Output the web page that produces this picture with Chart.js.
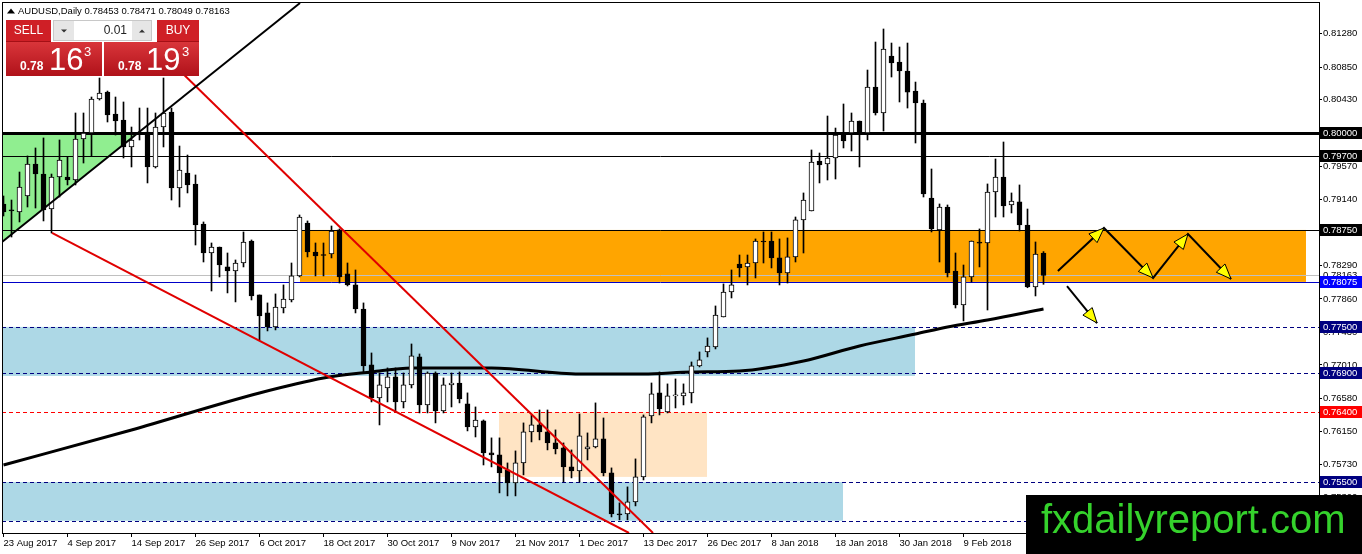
<!DOCTYPE html>
<html><head><meta charset="utf-8">
<script src="https://cdn.jsdelivr.net/npm/chart.js@4.4.1/dist/chart.umd.min.js"></script>
<style>html,body{margin:0;padding:0;background:#fff;overflow:hidden}#wrap{width:1362px;height:554px;position:relative}</style>
</head><body><div id="wrap"><canvas id="c"></canvas></div>
<script>
// ---------- DATA ----------
const symbolTitle = 'AUDUSD,Daily 0.78453 0.78471 0.78049 0.78163';
const dateLabels = ['23 Aug 2017','4 Sep 2017','14 Sep 2017','26 Sep 2017','6 Oct 2017','18 Oct 2017','30 Oct 2017','9 Nov 2017','21 Nov 2017','1 Dec 2017','13 Dec 2017','26 Dec 2017','8 Jan 2018','18 Jan 2018','30 Jan 2018','9 Feb 2018'];
const dateBars = [0,8,16,24,32,40,48,56,64,72,80,88,96,104,112,120];
const priceTicks = [0.8128,0.8085,0.8043,0.8000,0.7957,0.7914,0.7871,0.7829,0.7786,0.7743,0.7701,0.7658,0.7615,0.7573,0.7530];

const openP = [0.79085,0.79007,0.78982,0.79188,0.79600,0.79471,0.79020,0.79433,0.79433,0.79394,
0.79923,0.80000,0.80438,0.80528,0.80245,0.80168,0.79820,0.80000,0.80013,0.79562,
0.80077,0.80271,0.79291,0.79484,0.79343,0.78827,0.78453,0.78530,0.78273,0.78221,
0.78324,0.78608,0.77912,0.77680,0.77499,0.77744,0.77847,0.78157,0.78840,0.78466,
0.78427,0.78440,0.78750,0.78183,0.78041,0.77731,0.77010,0.76584,0.76713,0.76855,
0.76533,0.76752,0.77113,0.76494,0.76906,0.76417,0.76752,0.76777,0.76507,0.76210,
0.76288,0.75875,0.75849,0.75656,0.75488,0.75746,0.76146,0.76236,0.76146,0.76004,
0.75940,0.75695,0.75643,0.75927,0.75953,0.76056,0.75617,0.75089,0.75089,0.75244,
0.75566,0.76352,0.76649,0.76404,0.76610,0.76610,0.76649,0.76997,0.77177,0.77242,
0.77628,0.77950,0.78311,0.78273,0.78324,0.78608,0.78608,0.78389,0.78195,0.78402,
0.78879,0.78995,0.79639,0.79600,0.79678,0.79987,0.80000,0.80155,0.80000,0.80593,
0.80258,0.80993,0.80915,0.80799,0.80541,0.80387,0.79162,0.78750,0.79046,0.78221,
0.77783,0.78144,0.78582,0.78582,0.79239,0.79433,0.79072,0.79111,0.78814,0.78015,
0.78453];
const highP = [0.79188,0.79136,0.79497,0.79704,0.79807,0.79936,0.79471,0.79910,0.79691,0.80258,
0.80258,0.80464,0.80709,0.80541,0.80464,0.80400,0.80077,0.80322,0.80322,0.80258,
0.80709,0.80322,0.79832,0.79716,0.79459,0.78853,0.78582,0.78530,0.78453,0.78363,
0.78724,0.78621,0.77912,0.77809,0.77925,0.78041,0.78324,0.78943,0.78866,0.78582,
0.78582,0.78801,0.78763,0.78324,0.78234,0.77809,0.77164,0.76906,0.76971,0.76971,
0.76906,0.77280,0.77151,0.76920,0.76920,0.76842,0.76906,0.76919,0.76649,0.76468,
0.76300,0.76069,0.76069,0.75746,0.75901,0.76262,0.76365,0.76429,0.76429,0.76172,
0.76004,0.75914,0.76378,0.76133,0.76520,0.76326,0.75682,0.75231,0.75437,0.75798,
0.76365,0.76777,0.76919,0.76765,0.76829,0.76765,0.77048,0.77177,0.77358,0.77770,
0.78054,0.78234,0.78427,0.78427,0.78634,0.78724,0.78724,0.78634,0.78647,0.78917,
0.79227,0.79781,0.79742,0.80219,0.80064,0.80374,0.80258,0.80155,0.80812,0.81173,
0.81341,0.81160,0.81109,0.81160,0.80657,0.80425,0.79536,0.79085,0.79072,0.78453,
0.78298,0.78608,0.78763,0.79343,0.79665,0.79884,0.79227,0.79330,0.79020,0.78595,
0.78471];
const lowP = [0.78930,0.78659,0.78853,0.79046,0.79033,0.78866,0.78711,0.79175,0.79330,0.79330,
0.79613,0.79704,0.80425,0.80142,0.79974,0.79678,0.79562,0.79910,0.79356,0.79549,
0.79820,0.79136,0.79046,0.79227,0.78556,0.78337,0.77963,0.78144,0.77938,0.77822,
0.78273,0.77847,0.77332,0.77448,0.77461,0.77680,0.77822,0.78144,0.78402,0.78157,
0.78157,0.78389,0.78066,0.78028,0.77680,0.76906,0.76533,0.76236,0.76533,0.76404,
0.76455,0.76713,0.76391,0.76391,0.76262,0.76391,0.76468,0.76520,0.76159,0.76081,
0.75720,0.75695,0.75360,0.75321,0.75321,0.75592,0.76017,0.76043,0.75914,0.75862,
0.75501,0.75553,0.75501,0.75785,0.75940,0.75579,0.75050,0.75012,0.75012,0.75192,
0.75527,0.76262,0.76365,0.76391,0.76455,0.76494,0.76520,0.76984,0.77113,0.77216,
0.77628,0.77873,0.78144,0.78041,0.78131,0.78324,0.78260,0.78041,0.78066,0.78337,
0.78453,0.78995,0.79356,0.79394,0.79407,0.79807,0.79768,0.79562,0.79910,0.80232,
0.80026,0.80722,0.80400,0.80322,0.79871,0.79175,0.78724,0.78337,0.78144,0.77744,
0.77577,0.78079,0.78273,0.77718,0.78917,0.78917,0.78969,0.78737,0.78005,0.77899,
0.78049];
const closeP = [0.78982,0.78995,0.79304,0.79600,0.79471,0.79007,0.79433,0.79652,0.79394,0.79923,
0.80000,0.80438,0.80516,0.80232,0.80155,0.79820,0.79910,0.79987,0.79562,0.80077,
0.80258,0.79291,0.79523,0.79330,0.78814,0.78453,0.78530,0.78299,0.78221,0.78324,
0.78595,0.77899,0.77641,0.77499,0.77757,0.77860,0.78157,0.78917,0.78466,0.78415,
0.78420,0.78737,0.78144,0.78041,0.77731,0.76997,0.76584,0.76752,0.76855,0.76533,
0.76752,0.77126,0.76494,0.76906,0.76417,0.76752,0.76777,0.76571,0.76210,0.76300,
0.75875,0.75849,0.75617,0.75488,0.75746,0.76146,0.76236,0.76146,0.76004,0.75927,
0.75695,0.75643,0.76094,0.75953,0.76056,0.75617,0.75089,0.75076,0.75244,0.75566,
0.76339,0.76636,0.76442,0.76610,0.76612,0.76649,0.76997,0.77074,0.77254,0.77654,
0.77950,0.78041,0.78260,0.78324,0.78608,0.78595,0.78389,0.78195,0.78402,0.78879,
0.79136,0.79626,0.79588,0.79678,0.79974,0.79897,0.80155,0.80013,0.80593,0.80258,
0.81083,0.80902,0.80799,0.80528,0.80387,0.79214,0.78763,0.79046,0.78195,0.77783,
0.78144,0.78608,0.78580,0.79239,0.79433,0.79059,0.79123,0.78814,0.78015,0.78440,
0.78163];

// moving average read at sample bars
const maBars = [0,16,32,40,46,51,61,72,80,86,92,100,107,114,118,123,130];
const maVals = [0.75719,0.76171,0.76648,0.76841,0.76919,0.76970,0.76970,0.76893,0.76893,0.76919,0.76931,0.77060,0.77254,0.77408,0.77499,0.77589,0.77731];

// horizontal levels
const levelVals = [0.80000,0.79700,0.78750,0.78163,0.78075,0.77500,0.76900,0.76400,0.75500,0.75000];
const labeledLevels = [0.80000,0.79700,0.78750,0.78075,0.77500,0.76900,0.76400,0.75500];
const bidPrice = 0.78163;

// zones: [fromBar, toBar, highPrice, lowPrice]
const zoneOrange = [37.06,162.81,0.78750,0.78080];
const zoneBlueUpper = [-0.1875,113.94,0.77500,0.76868];
const zoneBlueLower = [-0.1875,104.94,0.75500,0.75000];
const zonePeach = [61.94,87.94,0.76400,0.75566];
const greenTriBars = [-0.1875,16.85,-0.1875];
const greenTriPrices = [0.80000,0.80000,0.78595];

// trend lines: [bar, price] pairs
const channelLineBars = [-0.1875,37.06];
const channelLinePrices = [0.78595,0.81676];
const redUpperBars = [21.44,81.19];
const redUpperPrices = [0.80864,0.748427];
const redLowerBars = [6.06,78.19];
const redLowerPrices = [0.78711,0.748427];

// projected path arrows
const zigBars = [131.8,137.56,143.7,148.06,153.44];
const zigPrices = [0.78221,0.78775,0.78131,0.78698,0.78118];
const downBars = [132.94,136.69];
const downPrices = [0.78027,0.77550];

// ---------- CHART ----------
const FONT = 'Liberation Sans, Arial, sans-serif';
const bars = openP.map((_, i) => i);
const xMin = -0.1875, xMax = -0.1875 + 1317/8;
const yMax = 0.8 + 131/7756, yMin = 0.8 - 400/7756;
const pts = (xs, ys) => xs.map((x, i) => ({x, y: ys[i]}));

const levelStyle = {
  '0.80000':{c:'#000',w:3,d:[]}, '0.79700':{c:'#000',w:1,d:[]}, '0.78750':{c:'#000',w:1,d:[]},
  '0.78163':{c:'#c0c0c0',w:1,d:[]}, '0.78075':{c:'#0000c8',w:1,d:[]},
  '0.77500':{c:'#000080',w:1,d:[4,3]}, '0.76900':{c:'#000080',w:1,d:[4,3]},
  '0.76400':{c:'#ff0000',w:1,d:[4,3]}, '0.75500':{c:'#000080',w:1,d:[4,3]}, '0.75000':{c:'#000080',w:1,d:[4,3]}
};
const labelBoxColor = {'0.80000':'#000','0.79700':'#000','0.78750':'#000','0.78075':'#0000ff','0.77500':'#000080','0.76900':'#000080','0.76400':'#ff0000','0.75500':'#000080'};

function arrowHead(ctx, x0, y0, x1, y1) {
  const a = Math.atan2(y1 - y0, x1 - x0), L = 15, W = 6;
  const bx = x1 - L*Math.cos(a), by = y1 - L*Math.sin(a);
  const px = -Math.sin(a)*W, py = Math.cos(a)*W;
  ctx.beginPath(); ctx.moveTo(x1, y1); ctx.lineTo(bx+px, by+py); ctx.lineTo(bx-px, by-py); ctx.closePath();
  ctx.fillStyle = '#ffff00'; ctx.fill(); ctx.strokeStyle = '#000'; ctx.lineWidth = 1; ctx.setLineDash([]); ctx.stroke();
}

const bgPlugin = {
  id: 'bg',
  beforeDatasetsDraw(chart) {
    const ctx = chart.ctx, xs = chart.scales.x, ys = chart.scales.y, a = chart.chartArea;
    ctx.save();
    ctx.beginPath(); ctx.rect(a.left, a.top, a.right - a.left, a.bottom - a.top); ctx.clip();
    const zone = (z, col) => {
      const x0 = xs.getPixelForValue(z[0]), x1 = xs.getPixelForValue(z[1]);
      const y0 = ys.getPixelForValue(z[2]), y1 = ys.getPixelForValue(z[3]);
      ctx.fillStyle = col; ctx.fillRect(x0, y0, x1 - x0, y1 - y0);
    };
    zone(zoneBlueUpper, '#add8e6');
    zone(zoneBlueLower, '#add8e6');
    zone(zonePeach, '#ffe4c4');
    zone(zoneOrange, '#ffa500');
    ctx.beginPath();
    greenTriBars.forEach((b, i) => {
      const x = xs.getPixelForValue(b), y = ys.getPixelForValue(greenTriPrices[i]);
      i ? ctx.lineTo(x, y) : ctx.moveTo(x, y);
    });
    ctx.closePath(); ctx.fillStyle = '#90ee90'; ctx.fill();
    levelVals.forEach(v => {
      const st = levelStyle[v.toFixed(5)];
      let y = Math.round(ys.getPixelForValue(v));
      if (st.w % 2) y += 0.5;
      ctx.strokeStyle = st.c; ctx.lineWidth = st.w; ctx.setLineDash(st.d);
      ctx.beginPath(); ctx.moveTo(a.left, y); ctx.lineTo(a.right, y); ctx.stroke();
    });
    ctx.restore();
  },
  afterDatasetsDraw(chart) {
    const ctx = chart.ctx, xs = chart.scales.x, ys = chart.scales.y;
    ctx.save();
    for (let i = 1; i < zigBars.length; i++) {
      arrowHead(ctx, xs.getPixelForValue(zigBars[i-1]), ys.getPixelForValue(zigPrices[i-1]),
                     xs.getPixelForValue(zigBars[i]), ys.getPixelForValue(zigPrices[i]));
    }
    arrowHead(ctx, xs.getPixelForValue(downBars[0]), ys.getPixelForValue(downPrices[0]),
                   xs.getPixelForValue(downBars[1]), ys.getPixelForValue(downPrices[1]));
    ctx.restore();
  },
  afterDraw(chart) {
    const ctx = chart.ctx, ys = chart.scales.y, a = chart.chartArea;
    ctx.save();
    // frame
    ctx.strokeStyle = '#000'; ctx.lineWidth = 1; ctx.setLineDash([]);
    ctx.strokeRect(a.left + 0.5, a.top + 0.5, a.right - a.left, a.bottom - a.top);
    // bid text
    ctx.font = '9.5px ' + FONT; ctx.textBaseline = 'middle'; ctx.textAlign = 'left';
    ctx.fillStyle = '#000';
    ctx.fillText(bidPrice.toFixed(5), a.right + 4, ys.getPixelForValue(bidPrice));
    // label boxes
    labeledLevels.forEach(v => {
      const y = Math.round(ys.getPixelForValue(v));
      ctx.fillStyle = labelBoxColor[v.toFixed(5)];
      ctx.fillRect(a.right + 1, y - 6, 1362 - a.right - 1, 12);
      ctx.fillStyle = '#fff';
      ctx.fillText(v.toFixed(5), a.right + 4, y + 0.5);
    });
    // title
    ctx.fillStyle = '#000';
    ctx.beginPath(); ctx.moveTo(7, 13.5); ctx.lineTo(15, 13.5); ctx.lineTo(11, 8.5); ctx.closePath(); ctx.fill();
    ctx.font = '9.5px ' + FONT; ctx.textBaseline = 'alphabetic';
    ctx.fillText(symbolTitle, 18, 14);
    // trade panel
    const red = '#cf1f26';
    ctx.fillStyle = red; ctx.fillRect(6, 20, 45, 21); ctx.fillRect(157, 20, 42, 21);
    ctx.fillStyle = '#fff'; ctx.fillRect(52, 20, 104, 22);
    ctx.fillStyle = '#e6e6e6'; ctx.fillRect(54, 21, 20, 19); ctx.fillRect(132, 21, 19, 19);
    ctx.strokeStyle = '#c8c8c8'; ctx.strokeRect(53.5, 20.5, 98, 20);
    ctx.fillStyle = '#333';
    ctx.beginPath(); ctx.moveTo(61, 29.5); ctx.lineTo(67, 29.5); ctx.lineTo(64, 32.5); ctx.closePath(); ctx.fill();
    ctx.beginPath(); ctx.moveTo(139, 32.5); ctx.lineTo(145, 32.5); ctx.lineTo(142, 29.5); ctx.closePath(); ctx.fill();
    ctx.font = '12px ' + FONT; ctx.textBaseline = 'middle';
    ctx.textAlign = 'right'; ctx.fillStyle = '#222'; ctx.fillText('0.01', 127, 31);
    ctx.textAlign = 'center'; ctx.fillStyle = '#fff';
    ctx.fillText('SELL', 28.5, 31); ctx.fillText('BUY', 178, 31);
    const g = ctx.createLinearGradient(0, 42, 0, 76);
    g.addColorStop(0, '#d9353a'); g.addColorStop(1, '#b0121a');
    ctx.fillStyle = '#a50f15'; ctx.fillRect(6, 41, 45, 1); ctx.fillRect(157, 41, 42, 1);
    ctx.fillStyle = g; ctx.fillRect(6, 42, 96, 34); ctx.fillRect(104, 42, 95, 34);
    ctx.textAlign = 'left'; ctx.textBaseline = 'alphabetic'; ctx.fillStyle = '#fff';
    ctx.font = 'bold 12px ' + FONT; ctx.fillText('0.78', 20, 69.5); ctx.fillText('0.78', 118, 69.5);
    ctx.font = '31px ' + FONT; ctx.fillText('16', 49, 69.5); ctx.fillText('19', 146, 69.5);
    ctx.font = '13px ' + FONT; ctx.fillText('3', 84, 56); ctx.fillText('3', 182, 56);
    // watermark box
    ctx.fillStyle = '#000'; ctx.fillRect(1026, 495, 336, 59);
    ctx.fillStyle = '#35d22c'; ctx.font = '40px ' + FONT;
    ctx.fillText('fxdailyreport.com', 1041, 533);
    ctx.restore();
  }
};

const lineDs = (xsArr, ysArr, color, w, order) => ({
  type: 'line', data: pts(xsArr, ysArr), borderColor: color, borderWidth: w,
  pointRadius: 0, fill: false, order
});

new Chart(document.getElementById('c'), {
  type: 'bar',
  data: {
    datasets: [
      Object.assign(lineDs(maBars, maVals, '#000', 3, 5), {cubicInterpolationMode: 'monotone'}),
      {type: 'bar', data: bars.map(i => ({x: i, y: [lowP[i], highP[i]]})), backgroundColor: '#000',
       barThickness: 1, grouped: false, borderWidth: 0, order: 4},
      {type: 'bar', data: bars.map(i => ({x: i, y: [openP[i], closeP[i]]})),
       backgroundColor: bars.map(i => closeP[i] >= openP[i] ? '#fff' : '#000'),
       borderColor: '#000', borderWidth: 1, borderSkipped: false, barThickness: 5, minBarLength: 1,
       grouped: false, order: 3},
      lineDs(channelLineBars, channelLinePrices, '#000', 2, 1),
      lineDs(redUpperBars, redUpperPrices, '#e00000', 2, 1),
      lineDs(redLowerBars, redLowerPrices, '#e00000', 2, 1),
      lineDs(zigBars, zigPrices, '#000', 2, 0),
      lineDs(downBars, downPrices, '#000', 2, 0)
    ]
  },
  options: {
    responsive: true, maintainAspectRatio: false, animation: false, devicePixelRatio: 1,
    layout: {padding: {left: 2, top: 2, right: 0, bottom: 0}},
    plugins: {legend: {display: false}, tooltip: {enabled: false}, title: {display: false}},
    events: [],
    scales: {
      x: {
        type: 'linear', min: xMin, max: xMax, offset: false,
        grid: {offset: false, drawOnChartArea: false, tickLength: 4, color: '#000'},
        border: {color: '#000'},
        ticks: {autoSkip: false, maxRotation: 0, minRotation: 0, align: 'start', padding: 1,
                font: {family: FONT, size: 9.5}, color: '#000',
                callback: (v, i) => dateLabels[i] || ''},
        afterBuildTicks: s => { s.ticks = dateBars.map(v => ({value: v})); },
        afterFit: s => { s.height = 21; s.paddingLeft = 0; s.paddingRight = 0; }
      },
      y: {
        position: 'right', min: yMin, max: yMax, beginAtZero: false,
        grid: {drawOnChartArea: false, tickLength: 3, color: '#000'},
        border: {color: '#000'},
        ticks: {autoSkip: false, padding: 1, font: {family: FONT, size: 9.5}, color: '#000',
                callback: v => Number(v).toFixed(5)},
        afterBuildTicks: s => { s.ticks = priceTicks.map(v => ({value: v})); },
        afterFit: s => { s.width = 43; s.paddingTop = 0; s.paddingBottom = 0; }
      }
    }
  },
  plugins: [bgPlugin]
});
</script>
</body></html>
